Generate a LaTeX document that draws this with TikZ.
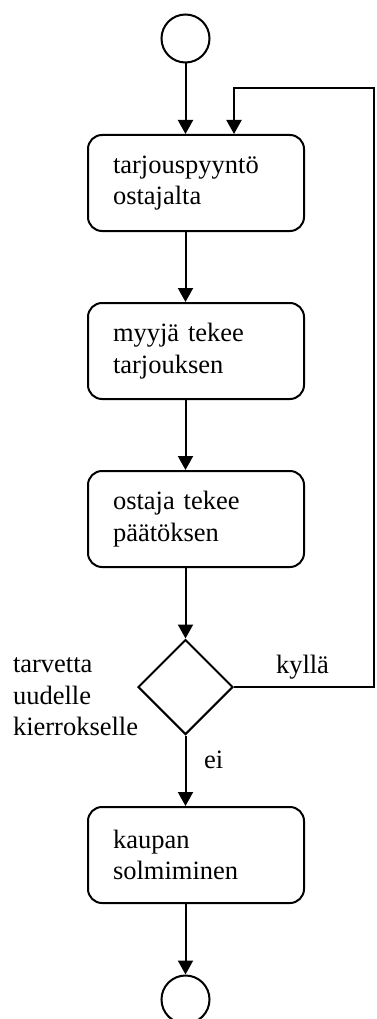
\documentclass[tikz,border=0pt]{standalone}
\usepackage{fontspec}
\setmainfont{Liberation Serif}
\usetikzlibrary{arrows.meta,shapes.geometric}
\begin{document}
\begin{tikzpicture}[x=1pt,y=-1pt,
  line width=2pt,
  every node/.style={font=\fontsize{26.5}{31.5}\selectfont},
  stepbox/.style={draw, rounded corners=14pt, minimum height=96pt, text width=166pt, inner xsep=25pt, inner ysep=0pt, align=left},
  startend/.style={draw, circle, minimum size=48pt, inner sep=0pt},
  choice/.style={draw, diamond, minimum width=95pt, minimum height=95pt, inner sep=0pt},
  arr/.style={-{Triangle[length=14pt,width=15pt]}},
  lbl/.style={inner sep=0pt, align=left}]
\useasboundingbox (0,0) rectangle (377,1019);
\node[startend] (c1) at (185.5,38.5) {};
\node[stepbox] (b1) at (196,183) {tarjouspyyntö\\ostajalta};
\node[stepbox] (b2) at (196,351) {myyjä tekee\\tarjouksen};
\node[stepbox] (b3) at (196,519) {ostaja tekee\\päätöksen};
\node[choice] (d) at (185.5,687) {};
\node[stepbox] (b4) at (196,855) {kaupan\\solmiminen};
\node[startend] (c2) at (185.5,999.5) {};
\coordinate (lp) at (374,88);
\node[lbl, anchor=west] (q) at (12,697) {tarvetta\\uudelle\\kierrokselle};
\node[lbl, anchor=base west] (yes) at (275,673) {kyllä};
\node[lbl, anchor=base west] (no) at (203,768) {ei};
\draw[arr] (c1.south) -- (c1.south |- b1.north);
\draw[arr] (c1.south |- b1.south) -- (c1.south |- b2.north);
\draw[arr] (c1.south |- b2.south) -- (c1.south |- b3.north);
\draw[arr] (c1.south |- b3.south) -- (d.north);
\draw[arr] (d.south) -- (d.south |- b4.north);
\draw[arr] (c1.south |- b4.south) -- (c2.north);
\draw[arr] (d.east) -- (d.east -| lp) -- (lp) -- (lp -| d.east) -- (b1.north -| d.east);
\end{tikzpicture}
\end{document}
